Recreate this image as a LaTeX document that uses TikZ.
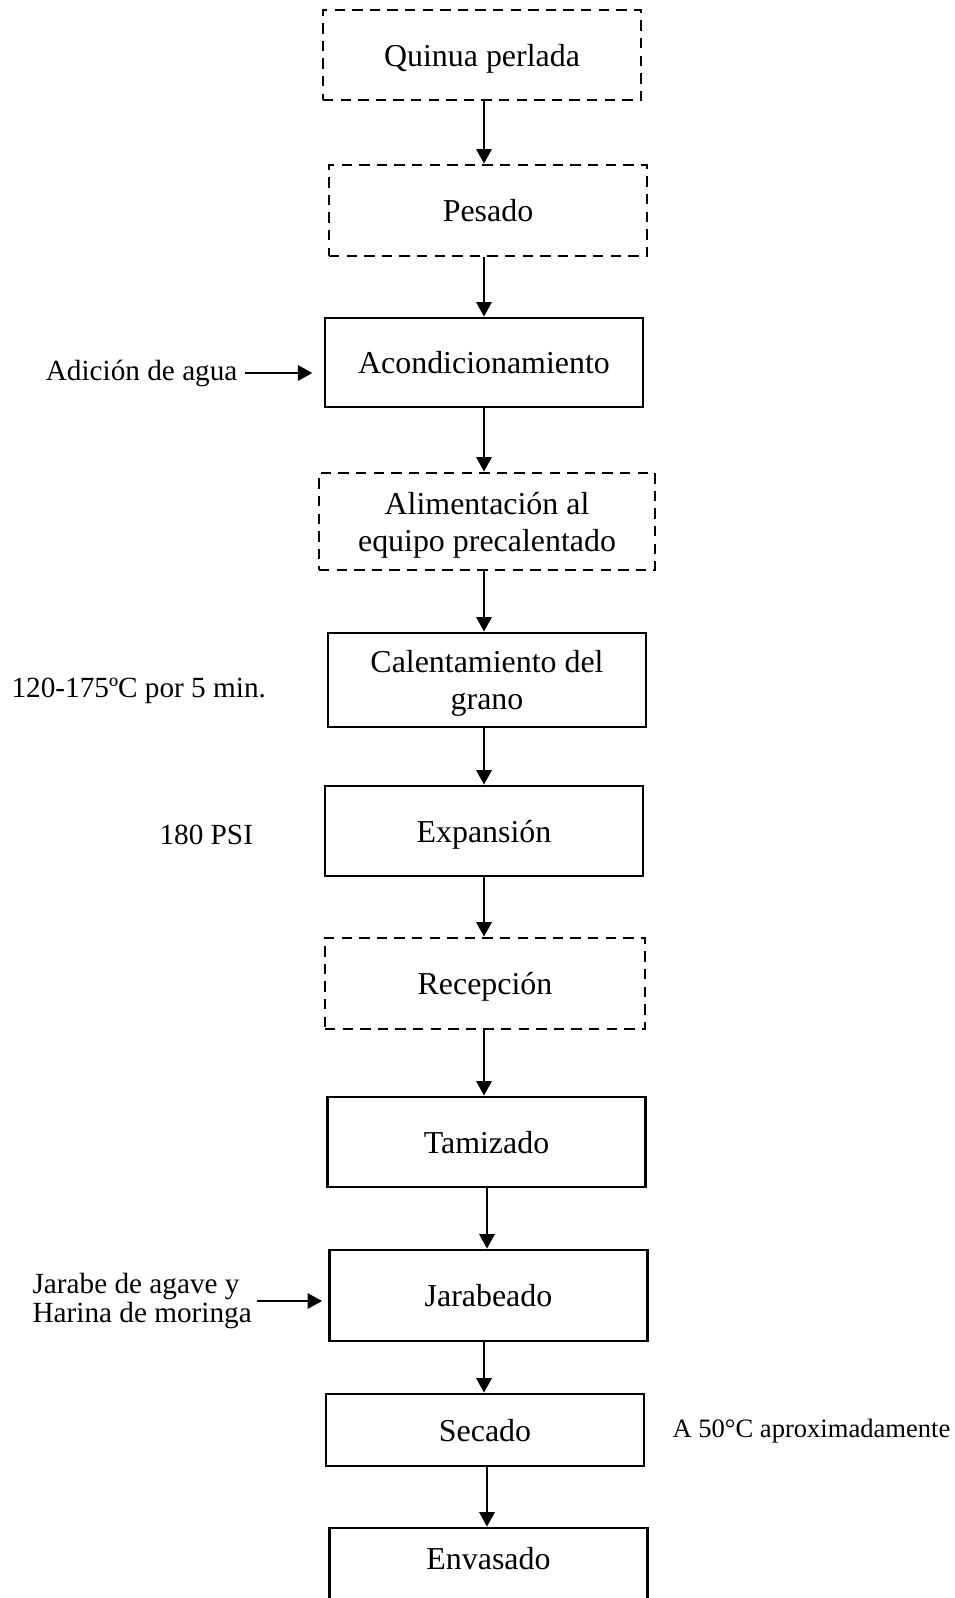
\documentclass[tikz,border=0pt]{standalone}
\usepackage{fontspec}
\setmainfont{Liberation Serif}
\usetikzlibrary{arrows.meta, calc}

\newcommand{\boxfont}{\fontsize{22.7}{26.3}\selectfont}
\newcommand{\sidefont}{\fontsize{20.8}{21.3}\selectfont}
\newcommand{\notefont}{\fontsize{18.9}{21.7}\selectfont}

\begin{document}
\begin{tikzpicture}[>=Stealth, thick]

    % Define styles
    \tikzset{
        procbox/.style={draw, line width=2pt, minimum width=7.95cm, minimum height=2.25cm, text depth=0pt, font=\boxfont},
        dashbox/.style={procbox, dash pattern=on 0.26cm off 0.18cm},
        flowarrow/.style={-{Triangle[length=0.36cm, width=0.38cm]}, line width=1.6pt},
        sidetext/.style={inner sep=0pt, align=left, font=\sidefont},
        notetext/.style={inner sep=0pt, font=\notefont}
    }

    % 0. Page frame
    \useasboundingbox (0,0) rectangle (23.875,-39.95);
    \def\xa{12.1}   % main spine
    \def\xb{12.175} % lower spine

    % 1. Process boxes
    \node[dashbox] (Quinua) at (12.05, -1.375) {Quinua perlada};
    \node[dashbox, minimum height=2.275cm] (Pesado) at (12.2, -5.2625) {Pesado};
    \node[procbox, minimum height=2.225cm] (Acond) at (12.1, -9.0625) {Acondicionamiento};
    \node[dashbox, align=center, minimum width=8.4cm, minimum height=2.425cm] (Alim) at (12.175, -13.0375) {Alimentación al\\equipo precalentado};
    \node[procbox, align=center, minimum height=2.35cm] (Calent) at (12.175, -17.0) {Calentamiento del\\grano};
    \node[procbox] (Expan) at (12.1, -20.775) {Expansión};
    \node[dashbox, minimum width=8cm, minimum height=2.275cm] (Recep) at (12.125, -24.5875) {Recepción};
    \node[procbox] (Tamiz) at (12.1625, -28.55) {Tamizado};
    \node[procbox, minimum height=2.275cm] (Jarab) at (12.2125, -32.3875) {Jarabeado};
    \node[procbox, minimum height=1.8cm] (Secado) at (12.125, -35.75) {Secado};
    \node[procbox, minimum height=2.25cm, text depth=0.75cm] (Envas) at (12.2125, -39.325) {Envasado};

    % 2. Main flow (vertical arrows)
    \draw[flowarrow] (Quinua.south -| \xa,0) -- (\xa,0 |- Pesado.north);
    \draw[flowarrow] (Pesado.south -| \xa,0) -- (\xa,0 |- Acond.north);
    \draw[flowarrow] (Acond.south -| \xa,0) -- (\xa,0 |- Alim.north);
    \draw[flowarrow] (Alim.south -| \xa,0) -- (\xa,0 |- Calent.north);
    \draw[flowarrow] (Calent.south -| \xa,0) -- (\xa,0 |- Expan.north);
    \draw[flowarrow] (Expan.south -| \xa,0) -- (\xa,0 |- Recep.north);
    \draw[flowarrow] (Recep.south -| \xa,0) -- (\xa,0 |- Tamiz.north);
    \draw[flowarrow] (Tamiz.south -| \xb,0) -- (\xb,0 |- Jarab.north);
    \draw[flowarrow] (Jarab.south -| \xa,0) -- (\xa,0 |- Secado.north);
    \draw[flowarrow] (Secado.south -| \xb,0) -- (\xb,0 |- Envas.north);

    % 3. Inputs on the left
    \node[sidetext, anchor=east] (Agua) at (5.95, -9.325) {Adición de agua};
    \draw[flowarrow, shorten <=0.17cm, shorten >=0.28cm] (Agua.east) -- (Agua.east -| Acond.west);

    \node[sidetext, anchor=west] (Jarabe) at (0.8, -32.525) {Jarabe de agave y\\Harina de moringa};
    \draw[flowarrow, shorten <=0.12cm, shorten >=0.15cm] (Jarabe.east) -- (Jarabe.east -| Jarab.west);

    % 4. Conditions
    \node[sidetext, anchor=west] (Temp) at (0.275, -17.275) {120-175ºC por 5 min.};
    \node[sidetext, anchor=west] (Presion) at (3.975, -20.875) {180 PSI};
    \node[notetext, anchor=west] (Secar) at (16.8, -35.775) {A 50°C aproximadamente};

\end{tikzpicture}
\end{document}
